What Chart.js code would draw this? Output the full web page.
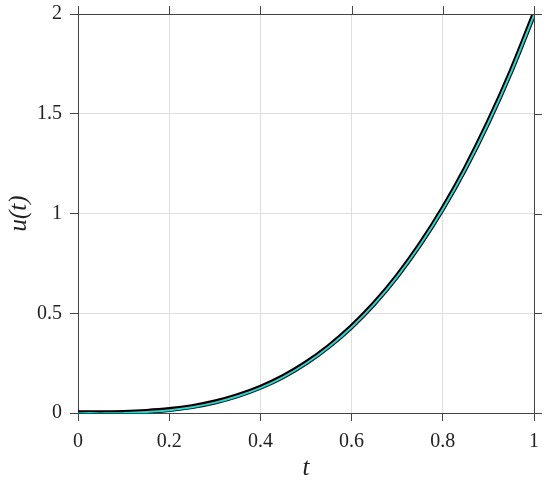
<!DOCTYPE html>
<html>
<head>
<meta charset="utf-8">
<script src="https://cdn.jsdelivr.net/npm/chart.js@4/dist/chart.umd.min.js"></script>
<style>
  html, body { margin: 0; padding: 0; background: #fff; }
  #wrap { width: 550px; height: 483px; }
</style>
</head>
<body>
<div id="wrap"><canvas id="plot" width="550" height="483"></canvas></div>
<script>
// values
const tValues = [0, 0.05, 0.1, 0.15, 0.2, 0.25, 0.3, 0.35, 0.4, 0.45, 0.5,
                 0.55, 0.6, 0.65, 0.7, 0.75, 0.8, 0.85, 0.9, 0.95, 1];
const uBlack = [0.001, 0.001, 0.003, 0.008, 0.017, 0.032, 0.055, 0.087, 0.129, 0.183, 0.251,
                0.334, 0.433, 0.550, 0.687, 0.845, 1.025, 1.229, 1.459, 1.715, 2.0];
const uCyan  = [-0.002, -0.002, 0.000, 0.005, 0.014, 0.029, 0.052, 0.084, 0.126, 0.180, 0.248,
                0.331, 0.430, 0.547, 0.684, 0.842, 1.021, 1.225, 1.455, 1.710, 1.995];
const xTicks = [0, 0.2, 0.4, 0.6, 0.8, 1];
const yTicks = [0, 0.5, 1, 1.5, 2];

const frameColor = '#444';
const serif = '"Liberation Serif", "DejaVu Serif", serif';

function pts(ys) {
  return tValues.map((t, i) => ({ x: t, y: ys[i] }));
}

// top and right border with outward ticks, like the left/bottom axes
const framePlugin = {
  id: 'frame',
  afterDraw(chart) {
    const { ctx, chartArea: a, scales } = chart;
    ctx.save();
    ctx.strokeStyle = frameColor;
    ctx.lineWidth = 1;
    ctx.beginPath();
    ctx.moveTo(a.left, a.top + 0.5);
    ctx.lineTo(a.right, a.top + 0.5);
    ctx.moveTo(a.right + 0.5, a.top);
    ctx.lineTo(a.right + 0.5, a.bottom);
    xTicks.forEach(v => {
      const px = Math.round(scales.x.getPixelForValue(v)) + 0.5;
      ctx.moveTo(px, a.top);
      ctx.lineTo(px, a.top - 8);
    });
    yTicks.forEach(v => {
      const py = Math.round(scales.y.getPixelForValue(v)) + 0.5;
      ctx.moveTo(a.right, py);
      ctx.lineTo(a.right + 8, py);
    });
    ctx.stroke();
    ctx.restore();
  }
};

new Chart(document.getElementById('plot'), {
  type: 'line',
  data: {
    datasets: [
      { label: 'cyan', data: pts(uCyan), borderColor: '#2fd3cf', borderWidth: 2,
        pointRadius: 0, cubicInterpolationMode: 'monotone', order: 0 },
      { label: 'black', data: pts(uBlack), borderColor: '#000', borderWidth: 5,
        pointRadius: 0, cubicInterpolationMode: 'monotone', order: 1 }
    ]
  },
  options: {
    responsive: false,
    animation: false,
    layout: { padding: { top: 14, right: 16, left: 4, bottom: 0 } },
    plugins: { legend: { display: false }, tooltip: { enabled: false } },
    scales: {
      x: {
        type: 'linear', min: 0, max: 1,
        afterBuildTicks: s => { s.ticks = xTicks.map(v => ({ value: v })); },
        afterFit: s => { s.height = 70; s.paddingLeft = 0; s.paddingRight = 0; },
        ticks: { color: '#222', font: { family: serif, size: 20 }, padding: 9,
                 maxRotation: 0, callback: v => String(v) },
        grid: { color: '#dedede', tickColor: frameColor, tickLength: 8 },
        border: { color: frameColor, width: 1 },
        title: { display: true, text: 't', color: '#222',
                 font: { family: serif, size: 25, style: 'italic' }, padding: { top: 0, bottom: 0 } }
      },
      y: {
        type: 'linear', min: 0, max: 2,
        afterBuildTicks: s => { s.ticks = yTicks.map(v => ({ value: v })); },
        afterFit: s => { s.width = 74; s.paddingTop = 0; s.paddingBottom = 0; },
        ticks: { color: '#222', font: { family: serif, size: 20 }, padding: 8,
                 callback: v => String(v) },
        grid: { color: '#dedede', tickColor: frameColor, tickLength: 8 },
        border: { color: frameColor, width: 1 },
        title: { display: true, text: 'u(t)', color: '#222',
                 font: { family: serif, size: 25, style: 'italic' }, padding: { top: 0, bottom: 0 } }
      }
    }
  },
  plugins: [framePlugin]
});
</script>
</body>
</html>
